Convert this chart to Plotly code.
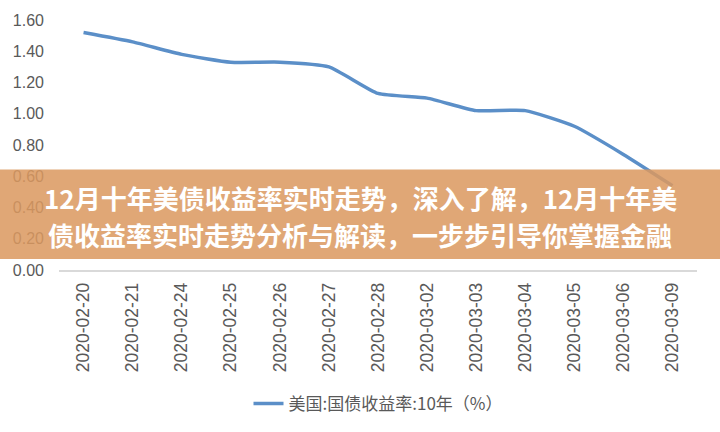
import plotly.graph_objects as go

dates = ["2020-02-20", "2020-02-21", "2020-02-24", "2020-02-25", "2020-02-26",
         "2020-02-27", "2020-02-28", "2020-03-02", "2020-03-03", "2020-03-04",
         "2020-03-05", "2020-03-06", "2020-03-09"]
yields = [1.52, 1.46, 1.38, 1.33, 1.33, 1.30, 1.13, 1.10, 1.02, 1.02, 0.92, 0.74, 0.54]
series_name = "美国:国债收益率:10年（%）"
y_ticks = [0, 0.2, 0.4, 0.6, 0.8, 1.0, 1.2, 1.4, 1.6]
banner_lines = ["12月十年美债收益率实时走势，深入了解，12月十年美",
                "债收益率实时走势分析与解读，一步步引导你掌握金融"]

W, H = 720, 432
L, R, T, B = 59, 23, 20, 161
pw, ph = W - L - R, H - T - B

def px_x(x):
    return (x - L) / pw

def px_y(y):
    return (H - B - y) / ph

fig = go.Figure()
fig.add_trace(go.Scatter(
    x=dates, y=yields, mode="lines", name=series_name,
    line=dict(color="#5b8fc8", width=3.5, shape="spline", smoothing=0.5),
))

fig.update_layout(
    width=W, height=H,
    margin=dict(l=L, r=R, t=T, b=B),
    paper_bgcolor="white", plot_bgcolor="white",
    font=dict(family="Liberation Sans, Arial, sans-serif", color="#595959"),
    showlegend=True,
    legend=dict(
        orientation="h", x=0.5, xanchor="center", y=px_y(404), yanchor="middle",
        font=dict(family="Noto Sans CJK SC, sans-serif", size=17, color="#595959"),
    ),
    xaxis=dict(
        type="category", range=[-0.5, len(dates) - 0.5],
        tickangle=-90, tickfont=dict(size=17.5, color="#595959"),
        showgrid=False, showline=True, linecolor="#d9d9d9", linewidth=1.5,
        ticks="", ticklabelstandoff=4,
    ),
    yaxis=dict(
        range=[0, 1.6], tickvals=y_ticks, tickformat=".2f",
        tickfont=dict(size=16, color="#595959"),
        showgrid=False, zeroline=False, showline=False, ticks="",
        ticklabelstandoff=14,
    ),
)

fig.add_shape(
    type="rect", xref="paper", yref="paper",
    x0=px_x(0), x1=px_x(W), y0=px_y(260), y1=px_y(170),
    fillcolor="rgba(219,153,96,0.86)", line=dict(width=0), layer="above",
)

for i, (txt, yc) in enumerate(zip(banner_lines, [198, 235])):
    fig.add_annotation(
        text="<b>" + txt + "</b>", xref="paper", yref="paper",
        x=px_x(360), y=px_y(yc), xanchor="center", yanchor="middle",
        showarrow=False,
        font=dict(family="Noto Sans CJK SC, sans-serif", size=26, color="white",
                  weight=900),
    )

fig.write_html("out.html")
